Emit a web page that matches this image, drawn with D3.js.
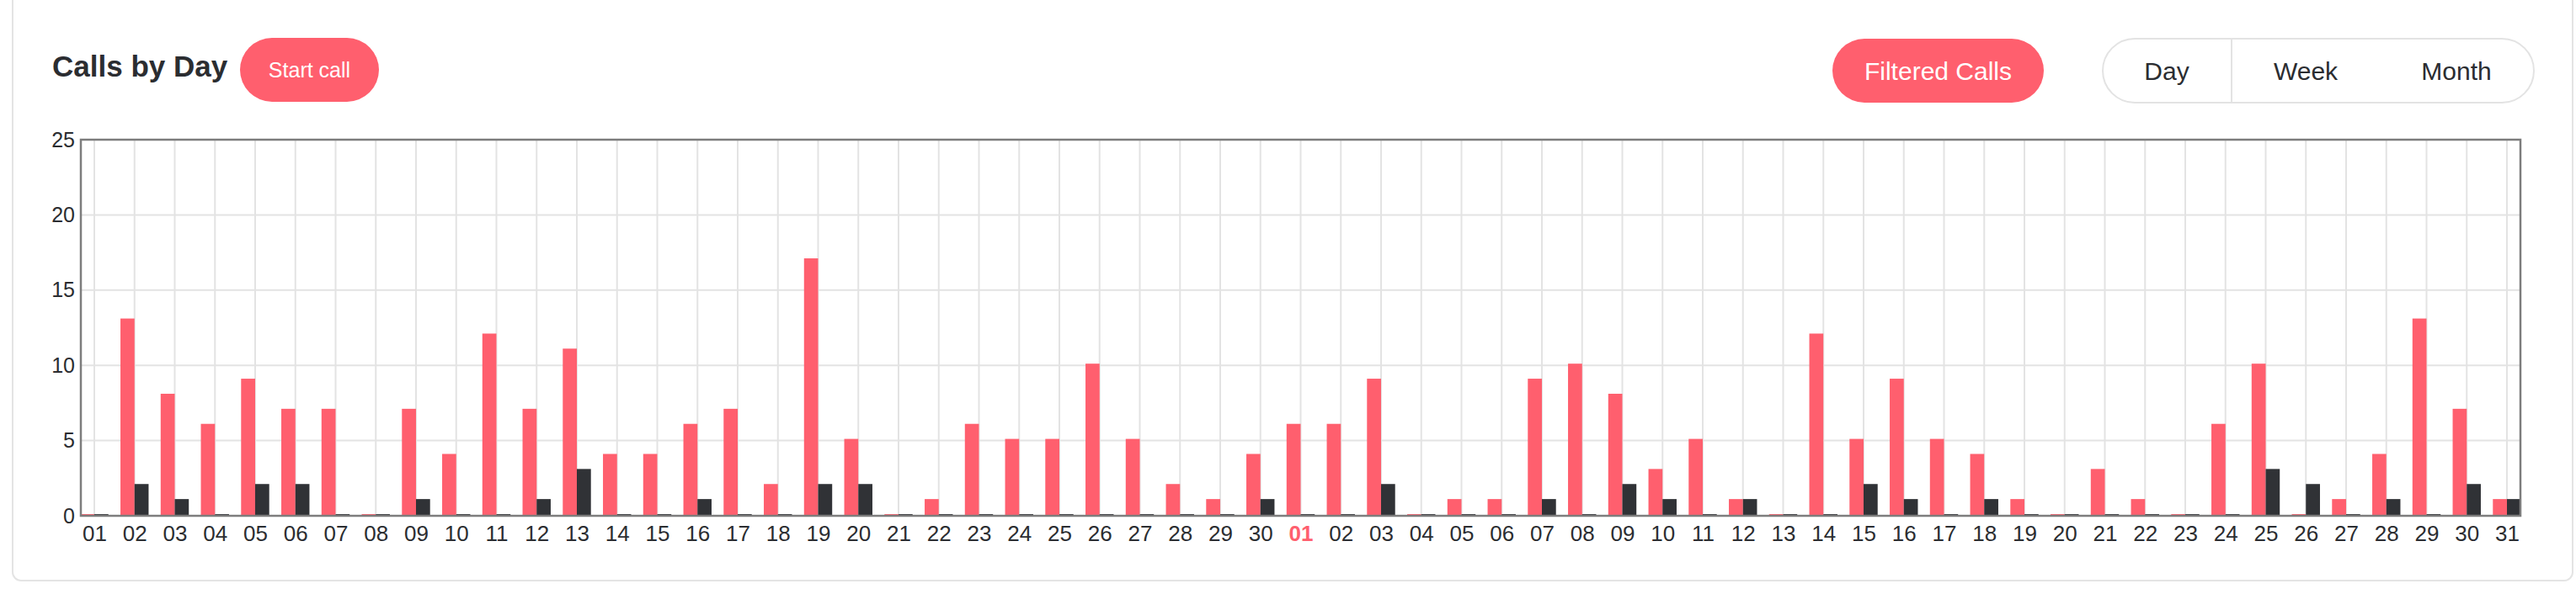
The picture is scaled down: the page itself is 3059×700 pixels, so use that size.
<!DOCTYPE html>
<html>
<head>
<meta charset="utf-8">
<script src="https://cdn.jsdelivr.net/npm/d3@7"></script>
<style>
  html, body { margin: 0; padding: 0; background: #ffffff; }
  svg { display: block; font-family: "Liberation Sans", Arial, Helvetica, sans-serif; }
</style>
</head>
<body>
<svg id="chart" width="3059" height="700"></svg>
<script>
// ---- data ----
const dayLabels = [
  "01","02","03","04","05","06","07","08","09","10",
  "11","12","13","14","15","16","17","18","19","20",
  "21","22","23","24","25","26","27","28","29","30",
  "01","02","03","04","05","06","07","08","09","10",
  "11","12","13","14","15","16","17","18","19","20",
  "21","22","23","24","25","26","27","28","29","30","31"
];
const allCalls = [
  0,13,8,6,9,7,7,0,7,4,
  12,7,11,4,4,6,7,2,17,5,
  0,1,6,5,5,10,5,2,1,4,
  6,6,9,0,1,1,9,10,8,3,
  5,1,0,12,5,9,5,4,1,0,
  3,1,0,6,10,0,1,4,13,7,1
];
const filteredCalls = [
  0,2,1,0,2,2,0,0,1,0,
  0,1,3,0,0,1,0,0,2,2,
  0,0,0,0,0,0,0,0,0,1,
  0,0,2,0,0,0,1,0,2,1,
  0,1,0,0,2,1,0,1,0,0,
  0,0,0,0,3,2,0,1,0,2,1
];
const yTicks = [0, 5, 10, 15, 20, 25];
const monthStartIndex = 30;   // the red, bold "01"
const toggleLabels = ["Day", "Week", "Month"];

// ---- styles ----
const PINK = "#ff5f6e";
const DARK = "#303236";
const TEXT = "#2b2d31";

const svg = d3.select("#chart");

// card
svg.append("rect")
  .attr("x", 15).attr("y", -20).attr("width", 3040).attr("height", 710)
  .attr("rx", 10).attr("fill", "#fff").attr("stroke", "#e4e4e4").attr("stroke-width", 2);

// header
svg.append("text").attr("x", 62).attr("y", 91)
  .attr("font-size", 35).attr("font-weight", "bold").attr("fill", TEXT)
  .text("Calls by Day");

const startBtn = svg.append("g");
startBtn.append("rect").attr("x", 285).attr("y", 45).attr("width", 165).attr("height", 76)
  .attr("rx", 38).attr("fill", PINK);
startBtn.append("text").attr("x", 367.5).attr("y", 92).attr("text-anchor", "middle")
  .attr("font-size", 25).attr("fill", "#fff").text("Start call");

const filtBtn = svg.append("g");
filtBtn.append("rect").attr("x", 2176).attr("y", 46).attr("width", 251).attr("height", 76)
  .attr("rx", 38).attr("fill", PINK);
filtBtn.append("text").attr("x", 2301.5).attr("y", 95).attr("text-anchor", "middle")
  .attr("font-size", 30).attr("fill", "#fff").text("Filtered Calls");

const grp = svg.append("g");
grp.append("rect").attr("x", 2497).attr("y", 46).attr("width", 512).attr("height", 76)
  .attr("rx", 38).attr("fill", "#fff").attr("stroke", "#e3e3e3").attr("stroke-width", 2);
grp.append("line").attr("x1", 2650).attr("x2", 2650).attr("y1", 47).attr("y2", 121)
  .attr("stroke", "#e3e3e3").attr("stroke-width", 2);
const toggleX = [2573, 2738, 2917];
grp.selectAll("text.tg").data(toggleLabels).join("text")
  .attr("class", "tg")
  .attr("x", (d, i) => toggleX[i]).attr("y", 95).attr("text-anchor", "middle")
  .attr("font-size", 30).attr("fill", TEXT).text(d => d);

// ---- plot ----
const plot = { left: 96, top: 166, right: 2993, bottom: 613 };
const W = plot.right - plot.left, H = plot.bottom - plot.top;
const g = svg.append("g").attr("transform", `translate(${plot.left},${plot.top})`);

const idx = d3.range(dayLabels.length);
const x = d3.scalePoint().domain(idx).range([0, W]).padding(0.335);
const y = d3.scaleLinear().domain([0, 25]).range([H, 0]);
const bw = x.step() * 0.35;

// grid
g.append("g").selectAll("line").data(idx).join("line")
  .attr("x1", d => x(d)).attr("x2", d => x(d)).attr("y1", 0).attr("y2", H)
  .attr("stroke", "#e3e3e3").attr("stroke-width", 2);
g.append("g").selectAll("line").data(yTicks.filter(t => t > 0 && t < 25)).join("line")
  .attr("x1", 0).attr("x2", W).attr("y1", d => y(d)).attr("y2", d => y(d))
  .attr("stroke", "#e3e3e3").attr("stroke-width", 2);

// bars
svg.append("defs").append("clipPath").attr("id", "clip")
  .append("rect").attr("x", 0).attr("y", -10).attr("width", W).attr("height", H + 10);
const bars = g.append("g").attr("clip-path", "url(#clip)");
bars.selectAll("rect.all").data(allCalls).join("rect")
  .attr("class", "all")
  .attr("x", (d, i) => x(i) - bw).attr("width", bw)
  .attr("y", d => y(d) - 2).attr("height", d => y(0) - y(d) + 2)
  .attr("fill", PINK);
bars.selectAll("rect.filt").data(filteredCalls).join("rect")
  .attr("class", "filt")
  .attr("x", (d, i) => x(i)).attr("width", bw)
  .attr("y", d => y(d) - 2).attr("height", d => y(0) - y(d) + 2)
  .attr("fill", DARK);

// frame
g.append("rect").attr("x", 0).attr("y", 0).attr("width", W).attr("height", H)
  .attr("fill", "none").attr("stroke", "#7d7d7d").attr("stroke-width", 2.5);

// axes
const yAxis = g.append("g").call(d3.axisLeft(y).tickValues(yTicks).tickSize(0).tickPadding(7));
yAxis.select(".domain").remove();
yAxis.selectAll("text").attr("font-size", 25).attr("fill", TEXT)
  .attr("font-family", "'Liberation Sans', Arial, sans-serif");

const xAxis = g.append("g").attr("transform", `translate(0,${H})`)
  .call(d3.axisBottom(x).tickFormat(i => dayLabels[i]).tickSize(0).tickPadding(12));
xAxis.select(".domain").remove();
xAxis.selectAll("text").attr("font-size", 26)
  .attr("font-family", "'Liberation Sans', Arial, sans-serif")
  .attr("fill", d => d === monthStartIndex ? PINK : TEXT)
  .attr("font-weight", d => d === monthStartIndex ? "bold" : "normal");
</script>
</body>
</html>
